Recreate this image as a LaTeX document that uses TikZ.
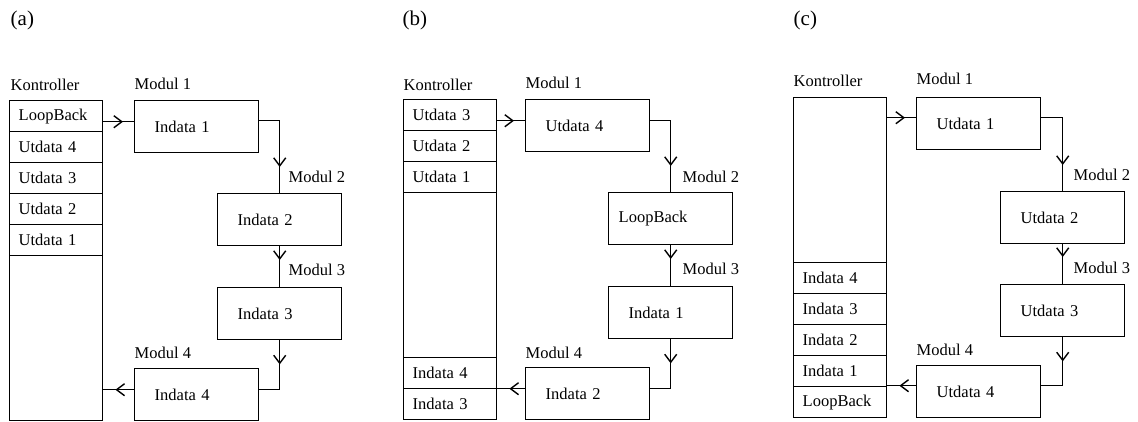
\documentclass[tikz,border=0pt]{standalone}
\usepackage{fontspec}
\setmainfont{Liberation Serif}
\usetikzlibrary{arrows.meta,decorations.markings}
\tikzset{
  base/.style={font=\fontsize{16.5}{18}\selectfont},
  box/.style={base, draw, minimum width=124pt, minimum height=52pt, inner xsep=20pt, inner ysep=0pt, text width=84pt, align=left, anchor=north west},
  boxnarrow/.style={box, inner xsep=10pt, text width=104pt},
  col/.style={draw, minimum width=93pt, minimum height=320pt, anchor=north west, inner sep=0pt},
  slot/.style={base, draw, minimum width=93pt, minimum height=31pt, inner xsep=9pt, inner ysep=0pt, text width=75pt, align=left, anchor=north west},
  lbl/.style={base, inner sep=0pt, anchor=west},
  panel/.style={font=\fontsize{21}{24}\selectfont, inner sep=0pt, anchor=west},
  midarr/.style={postaction={decorate, decoration={markings, mark=at position #1 with {\arrow{Straight Barb[length=8pt,width=12pt,line width=1.4pt]}}}}}
}
\begin{document}
\begin{tikzpicture}[x=1pt, y=-1pt, line width=1.4pt]
\useasboundingbox (0,0) rectangle (1138,421);

\node[panel] (pa) at (10,20) {(a)};
\node[panel] (pb) at (402,20) {(b)};
\node[panel] (pc) at (793,20) {(c)};

% ---------- panel (a)
\begin{scope}[shift={(9,100)}]
\node[col] (ka) at (0,0) {};
\node[lbl] (kla) at (1,-15) {Kontroller};
\node[slot] (a1) at (0,0) {LoopBack};
\node[slot] (a2) at (0,31) {Utdata 4};
\node[slot] (a3) at (0,62) {Utdata 3};
\node[slot] (a4) at (0,93) {Utdata 2};
\node[slot] (a5) at (0,124) {Utdata 1};
\node[box] (am1) at (125,0) {Indata 1};
\node[box] (am2) at (208,93) {Indata 2};
\node[box] (am3) at (208,187) {Indata 3};
\node[box] (am4) at (125,268) {Indata 4};
\node[lbl] (al1) at (125,-16) {Modul 1};
\node[lbl] (al2) at (279,77) {Modul 2};
\node[lbl] (al3) at (279,170) {Modul 3};
\node[lbl] (al4) at (125,253) {Modul 4};
\draw[midarr=-11pt] ([yshift=5pt]am1.west -| ka.east) -- ([yshift=5pt]am1.west);
\draw[midarr=-26pt] ([yshift=6pt]am1.east) -| (am2.north);
\draw[midarr=-27pt] (am2.south) -- (am3.north);
\draw[midarr=24pt] (am3.south) |- ([yshift=5pt]am4.east);
\draw[midarr=-12pt] ([yshift=5pt]am4.west) -- ([yshift=5pt]am4.west -| ka.east);
\end{scope}

% ---------- panel (b)
\begin{scope}[shift={(403,99)}]
\node[col] (kb) at (0,0) {};
\node[lbl] (klb) at (0,-14) {Kontroller};
\node[slot] (b1) at (0,0) {Utdata 3};
\node[slot] (b2) at (0,31) {Utdata 2};
\node[slot] (b3) at (0,62) {Utdata 1};
\node[slot] (b4) at (0,258) {Indata 4};
\node[slot] (b5) at (0,289) {Indata 3};
\node[box] (bm1) at (122,0) {Utdata 4};
\node[boxnarrow] (bm2) at (205,93) {LoopBack};
\node[box] (bm3) at (205,187) {Indata 1};
\node[box] (bm4) at (122,268) {Indata 2};
\node[lbl] (bl1) at (122,-16) {Modul 1};
\node[lbl] (bl2) at (279,78) {Modul 2};
\node[lbl] (bl3) at (279,170) {Modul 3};
\node[lbl] (bl4) at (122,254) {Modul 4};
\draw[midarr=-11pt] ([yshift=5pt]bm1.west -| kb.east) -- ([yshift=5pt]bm1.west);
\draw[midarr=-26pt] ([yshift=5pt]bm1.east) -| (bm2.north);
\draw[midarr=-27pt] (bm2.south) -- (bm3.north);
\draw[midarr=24pt] (bm3.south) |- ([yshift=5pt]bm4.east);
\draw[midarr=-12pt] ([yshift=5pt]bm4.west) -- ([yshift=5pt]bm4.west -| kb.east);
\end{scope}

% ---------- panel (c)
\begin{scope}[shift={(793,97)}]
\node[col] (kc) at (0,0) {};
\node[lbl] (klc) at (0,-16) {Kontroller};
\node[slot] (c1) at (0,165) {Indata 4};
\node[slot] (c2) at (0,196) {Indata 3};
\node[slot] (c3) at (0,227) {Indata 2};
\node[slot] (c4) at (0,258) {Indata 1};
\node[slot] (c5) at (0,289) {LoopBack};
\node[box] (cm1) at (123,0) {Utdata 1};
\node[box] (cm2) at (207,94) {Utdata 2};
\node[box] (cm3) at (207,187) {Utdata 3};
\node[box] (cm4) at (123,268) {Utdata 4};
\node[lbl] (cl1) at (123,-18) {Modul 1};
\node[lbl] (cl2) at (280,78) {Modul 2};
\node[lbl] (cl3) at (280,171) {Modul 3};
\node[lbl] (cl4) at (123,253) {Modul 4};
\draw[midarr=-11pt] ([yshift=6pt]cm1.west -| kc.east) -- ([yshift=6pt]cm1.west);
\draw[midarr=-26pt] ([yshift=6pt]cm1.east) -| (cm2.north);
\draw[midarr=-27pt] (cm2.south) -- (cm3.north);
\draw[midarr=24pt] (cm3.south) |- ([yshift=6pt]cm4.east);
\draw[midarr=-12pt] ([yshift=6pt]cm4.west) -- ([yshift=6pt]cm4.west -| kc.east);
\end{scope}
\end{tikzpicture}
\end{document}
